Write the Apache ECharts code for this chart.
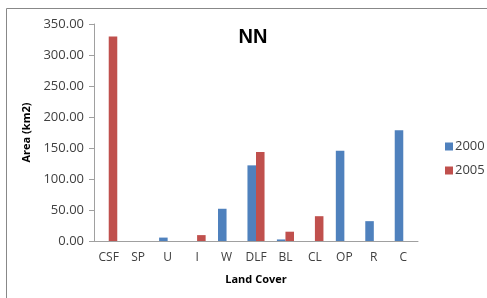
<!DOCTYPE html>
<html>
<head>
<meta charset="utf-8">
<script src="https://cdn.jsdelivr.net/npm/echarts@6/dist/echarts.min.js"></script>
<style>
  html, body { margin: 0; padding: 0; background: #fff; }
  #chart { width: 487px; height: 298px; }
</style>
</head>
<body>
<div id="chart"></div>
<script>
// land cover classes
const categories = ['CSF', 'SP', 'U', 'I', 'W', 'DLF', 'BL', 'CL', 'OP', 'R', 'C']
// area in km2
const area2000 = [0, 0, 5.5, 0, 52, 122, 2.5, 0, 145.5, 32, 178.5]
const area2005 = [330, 0, 0, 9.5, 0, 143.5, 15, 40, 0, 0, 0]
const yTicks = [0, 50, 100, 150, 200, 250, 300, 350]

const chart = echarts.init(document.getElementById('chart'))
const font = 'Open Sans'

chart.setOption({
  animation: false,
  textStyle: { fontFamily: font },
  title: {
    text: 'NN',
    left: 248,
    top: 22,
    textAlign: 'center',
    textStyle: { fontFamily: 'Liberation Sans', fontSize: 20, fontWeight: 'bold', color: '#000' }
  },
  legend: {
    orient: 'vertical',
    left: 440,
    top: 135,
    itemWidth: 8,
    itemHeight: 8,
    itemGap: 11,
    icon: 'rect',
    textStyle: { fontSize: 13, color: '#404040', padding: [0, 0, 0, -3] },
    data: ['2000', '2005']
  },
  grid: {
    left: 94,
    right: 69,
    top: 24,
    bottom: 57
  },
  xAxis: {
    type: 'category',
    data: categories,
    name: 'Land Cover',
    nameLocation: 'middle',
    nameGap: 33,
    nameTextStyle: { fontSize: 11, fontWeight: 'bold', color: '#000' },
    axisLine: { lineStyle: { color: '#a0a0a0' } },
    axisTick: { length: 5, lineStyle: { color: '#a0a0a0' } },
    axisLabel: { fontSize: 12, color: '#404040', margin: 11 }
  },
  yAxis: {
    type: 'value',
    min: yTicks[0],
    max: yTicks[yTicks.length - 1],
    interval: 50,
    name: 'Area (km2)',
    nameLocation: 'middle',
    nameGap: 53,
    nameTextStyle: { fontSize: 11, fontWeight: 'bold', color: '#000' },
    splitLine: { show: false },
    axisLine: { show: true, lineStyle: { color: '#a0a0a0' } },
    axisTick: { show: true, length: 5, lineStyle: { color: '#a0a0a0' } },
    axisLabel: {
      fontSize: 13,
      color: '#404040',
      margin: 10,
      formatter: v => v.toFixed(2)
    }
  },
  series: [{
    name: '2000',
    type: 'bar',
    data: area2000,
    barGap: '0%',
    barCategoryGap: '42%',
    itemStyle: { color: '#4f81bd' }
  }, {
    name: '2005',
    type: 'bar',
    data: area2005,
    itemStyle: { color: '#c0504d' }
  }],
  graphic: [{
    type: 'polyline',
    shape: { points: [[6.5, 298], [6.5, 8.5], [487, 8.5]] },
    style: { stroke: '#888', lineWidth: 1, fill: null }
  }]
})
</script>
</body>
</html>
